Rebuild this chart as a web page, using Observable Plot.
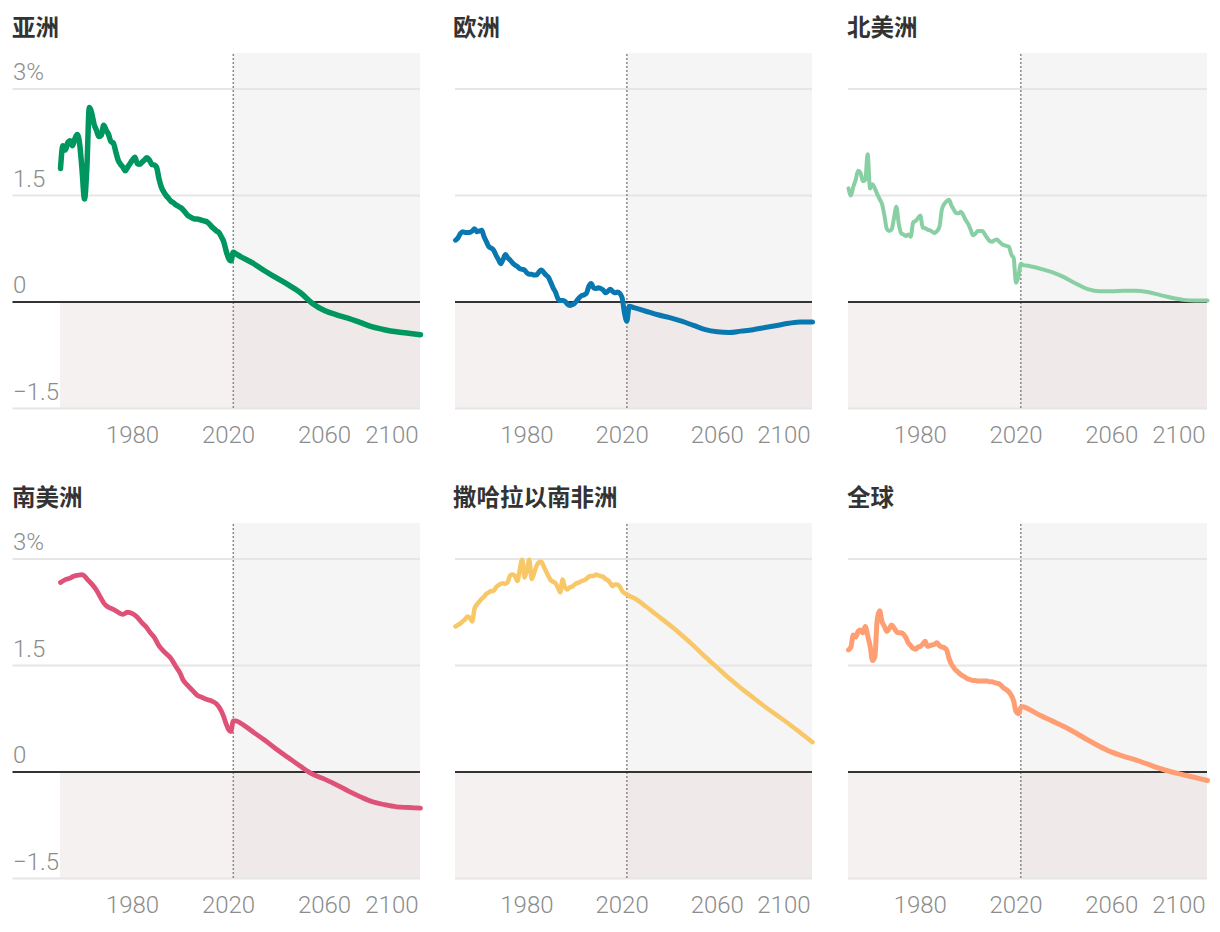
<!DOCTYPE html>
<html>
<head>
<meta charset="utf-8">
<script src="https://cdn.jsdelivr.net/npm/d3@7"></script>
<script src="https://cdn.jsdelivr.net/npm/@observablehq/plot@0.6"></script>
<style>
  html, body { margin: 0; padding: 0; background: #fff; }
  #root { position: relative; width: 1220px; height: 932px; overflow: hidden; }
  .title { position: absolute; font-family: "Noto Sans CJK SC", sans-serif; font-weight: 700; font-size: 23.5px; line-height: 1; color: #333; white-space: nowrap; }
  #root svg { position: absolute; overflow: visible; }
</style>
</head>
<body>
<div id="root"></div>
<script>
// ---------------- data (annual population growth rate, %) ----------------
const titles = ["亚洲", "欧洲", "北美洲", "南美洲", "撒哈拉以南非洲", "全球"];

const asia = [
  [1950,1.88],[1951,2.2],[1952,2.14],[1953,2.24],[1954,2.27],[1955,2.2],[1956,2.3],[1957,2.36],[1958,2.22],
  [1959,1.85],[1960,1.45],[1961,1.9],[1962,2.74],[1963,2.66],[1964,2.5],[1965,2.42],[1966,2.33],[1967,2.35],
  [1968,2.49],[1969,2.42],[1970,2.36],[1971,2.26],[1972,2.24],[1973,2.12],[1974,2.0],[1975,1.94],[1976,1.9],
  [1977,1.85],[1978,1.9],[1979,1.95],[1980,2.0],[1981,2.04],[1982,1.95],[1983,1.94],[1984,1.97],[1985,2.0],
  [1986,2.03],[1987,2.0],[1988,1.94],[1989,1.93],[1990,1.9],[1991,1.74],[1992,1.62],[1993,1.55],[1994,1.5],
  [1995,1.46],[1996,1.42],[1997,1.4],[1998,1.37],[1999,1.35],[2000,1.33],[2001,1.3],[2002,1.26],[2003,1.22],
  [2004,1.2],[2005,1.18],[2006,1.17],[2007,1.17],[2008,1.16],[2009,1.15],[2010,1.14],[2011,1.13],[2012,1.1],
  [2013,1.06],[2014,1.03],[2015,1.0],[2016,0.98],[2017,0.92],[2018,0.85],[2019,0.72],[2020,0.62],[2021,0.58],
  [2022,0.7],[2023,0.68],[2025,0.64],[2030,0.55],[2035,0.44],[2040,0.34],[2045,0.24],[2050,0.13],[2055,-0.02],
  [2060,-0.12],[2065,-0.18],[2070,-0.23],[2075,-0.29],[2080,-0.35],[2085,-0.39],[2090,-0.42],[2095,-0.44],[2100,-0.46]
];

const europe = [
  [1950,0.87],[1951,0.9],[1952,0.96],[1953,0.99],[1954,0.98],[1955,0.98],[1956,0.98],[1957,1.0],[1958,1.03],
  [1959,0.99],[1960,1.0],[1961,1.01],[1962,0.92],[1963,0.85],[1964,0.78],[1965,0.76],[1966,0.73],[1967,0.66],
  [1968,0.6],[1969,0.54],[1970,0.6],[1971,0.67],[1972,0.62],[1973,0.59],[1974,0.55],[1975,0.52],[1976,0.5],
  [1977,0.47],[1978,0.46],[1979,0.45],[1980,0.41],[1981,0.39],[1982,0.39],[1983,0.38],[1984,0.38],[1985,0.42],
  [1986,0.45],[1987,0.42],[1988,0.38],[1989,0.35],[1990,0.28],[1991,0.2],[1992,0.14],[1993,0.05],[1994,0.02],
  [1995,0.02],[1996,0.01],[1997,-0.03],[1998,-0.05],[1999,-0.04],[2000,-0.02],[2001,0.02],[2002,0.06],[2003,0.09],
  [2004,0.1],[2005,0.12],[2006,0.22],[2007,0.26],[2008,0.2],[2009,0.19],[2010,0.2],[2011,0.19],[2012,0.17],
  [2013,0.13],[2014,0.15],[2015,0.18],[2016,0.15],[2017,0.13],[2018,0.14],[2019,0.12],[2020,0.06],[2021,-0.16],
  [2022,-0.27],[2023,-0.06],[2025,-0.08],[2030,-0.13],[2035,-0.18],[2040,-0.22],[2045,-0.27],[2050,-0.33],
  [2055,-0.39],[2060,-0.42],[2065,-0.43],[2070,-0.41],[2075,-0.39],[2080,-0.36],[2085,-0.33],[2090,-0.3],
  [2095,-0.28],[2100,-0.28]
];

const northAmerica = [
  [1950,1.6],[1951,1.5],[1952,1.62],[1953,1.72],[1954,1.85],[1955,1.82],[1956,1.7],[1957,1.72],[1958,2.08],
  [1959,1.6],[1960,1.66],[1961,1.6],[1962,1.52],[1963,1.45],[1964,1.38],[1965,1.22],[1966,1.03],[1967,1.0],
  [1968,1.02],[1969,1.18],[1970,1.34],[1971,1.1],[1972,0.97],[1973,0.95],[1974,0.93],[1975,0.95],[1976,0.92],
  [1977,1.12],[1978,1.14],[1979,1.18],[1980,1.22],[1981,1.05],[1982,1.04],[1983,1.02],[1984,1.01],[1985,0.99],
  [1986,0.97],[1987,1.0],[1988,1.06],[1989,1.3],[1990,1.38],[1991,1.42],[1992,1.44],[1993,1.36],[1994,1.3],
  [1995,1.25],[1996,1.25],[1997,1.27],[1998,1.22],[1999,1.15],[2000,1.1],[2001,1.02],[2002,0.94],[2003,0.96],
  [2004,1.0],[2005,1.0],[2006,1.0],[2007,0.95],[2008,0.9],[2009,0.86],[2010,0.85],[2011,0.87],[2012,0.88],
  [2013,0.85],[2014,0.82],[2015,0.8],[2016,0.79],[2017,0.78],[2018,0.67],[2019,0.62],[2020,0.27],[2021,0.36],
  [2022,0.54],[2023,0.52],[2025,0.51],[2030,0.47],[2035,0.42],[2040,0.35],[2045,0.26],[2050,0.18],[2055,0.15],
  [2060,0.15],[2065,0.16],[2070,0.16],[2075,0.14],[2080,0.1],[2085,0.06],[2090,0.03],[2095,0.02],[2100,0.02]
];

const southAmerica = [
  [1950,2.67],[1952,2.71],[1954,2.73],[1955,2.75],[1957,2.77],[1959,2.78],[1960,2.76],[1961,2.72],[1963,2.65],
  [1965,2.56],[1967,2.44],[1968,2.38],[1970,2.32],[1972,2.29],[1974,2.25],[1975,2.23],[1976,2.22],[1978,2.25],
  [1980,2.23],[1982,2.18],[1984,2.1],[1986,2.03],[1987,1.98],[1989,1.9],[1991,1.78],[1993,1.7],[1996,1.6],
  [1998,1.49],[2000,1.38],[2001,1.3],[2003,1.22],[2005,1.15],[2007,1.08],[2009,1.05],[2011,1.02],[2013,1.0],
  [2015,0.96],[2017,0.86],[2018,0.78],[2019,0.68],[2020,0.6],[2021,0.57],[2022,0.72],[2023,0.72],[2025,0.69],
  [2030,0.57],[2035,0.45],[2040,0.32],[2045,0.2],[2050,0.08],[2055,-0.03],[2060,-0.1],[2065,-0.18],[2070,-0.27],
  [2075,-0.35],[2080,-0.42],[2085,-0.46],[2090,-0.49],[2095,-0.5],[2100,-0.51]
];

const subSaharanAfrica = [
  [1950,2.05],[1951,2.07],[1952,2.09],[1953,2.12],[1954,2.15],[1955,2.19],[1956,2.17],[1957,2.12],[1958,2.3],
  [1959,2.36],[1960,2.4],[1961,2.44],[1962,2.47],[1963,2.51],[1964,2.53],[1965,2.55],[1966,2.55],[1967,2.6],
  [1968,2.63],[1969,2.65],[1970,2.66],[1971,2.65],[1972,2.68],[1973,2.77],[1974,2.78],[1975,2.76],[1976,2.69],
  [1977,2.85],[1978,2.99],[1979,2.74],[1980,2.85],[1981,2.99],[1982,2.72],[1983,2.8],[1984,2.9],[1985,2.95],
  [1986,2.96],[1987,2.9],[1988,2.83],[1989,2.76],[1990,2.7],[1991,2.68],[1992,2.66],[1993,2.6],[1994,2.53],
  [1995,2.71],[1996,2.6],[1997,2.57],[1998,2.6],[1999,2.61],[2000,2.64],[2001,2.66],[2002,2.67],[2003,2.69],
  [2004,2.7],[2005,2.72],[2006,2.75],[2007,2.76],[2008,2.76],[2009,2.78],[2010,2.77],[2011,2.76],[2012,2.75],
  [2013,2.72],[2014,2.7],[2015,2.66],[2016,2.62],[2017,2.64],[2018,2.64],[2019,2.61],[2020,2.55],[2021,2.52],
  [2022,2.5],[2023,2.48],[2025,2.45],[2030,2.33],[2035,2.2],[2040,2.07],[2045,1.93],[2050,1.78],[2055,1.62],
  [2060,1.47],[2065,1.32],[2070,1.18],[2075,1.05],[2080,0.92],[2085,0.8],[2090,0.68],[2095,0.55],[2100,0.42]
];

const world = [
  [1950,1.72],[1951,1.76],[1952,1.93],[1953,1.9],[1954,1.98],[1955,2.0],[1956,1.96],[1957,2.05],[1958,1.92],
  [1959,1.78],[1960,1.57],[1961,1.62],[1962,2.15],[1963,2.27],[1964,2.12],[1965,2.05],[1966,1.98],[1967,2.02],
  [1968,2.07],[1969,2.03],[1970,1.98],[1971,1.96],[1972,1.96],[1973,1.94],[1974,1.89],[1975,1.82],[1976,1.78],
  [1977,1.74],[1978,1.73],[1979,1.76],[1980,1.77],[1981,1.8],[1982,1.84],[1983,1.77],[1984,1.78],[1985,1.79],
  [1986,1.8],[1987,1.82],[1988,1.78],[1989,1.76],[1990,1.75],[1991,1.72],[1992,1.6],[1993,1.52],[1994,1.47],
  [1995,1.43],[1996,1.4],[1997,1.37],[1998,1.35],[1999,1.33],[2000,1.31],[2001,1.3],[2002,1.29],[2003,1.29],
  [2004,1.28],[2005,1.28],[2006,1.28],[2007,1.28],[2008,1.28],[2009,1.27],[2010,1.27],[2011,1.26],[2012,1.25],
  [2013,1.24],[2014,1.21],[2015,1.18],[2016,1.16],[2017,1.13],[2018,1.08],[2019,1.0],[2020,0.85],[2021,0.82],
  [2022,0.91],[2023,0.92],[2025,0.89],[2030,0.8],[2035,0.72],[2040,0.64],[2045,0.55],[2050,0.45],[2055,0.36],
  [2060,0.28],[2065,0.22],[2070,0.17],[2075,0.11],[2080,0.05],[2085,0.0],[2090,-0.04],[2095,-0.08],[2100,-0.12]
];

const seriesList = [asia, europe, northAmerica, southAmerica, subSaharanAfrica, world];
const colors = ["#00965f", "#0a78b0", "#88cfa4", "#df5278", "#f8c767", "#ff9e73"];
const lineWidths = [5.5, 5, 4, 4.8, 4.5, 5];

const yearStart = 1950, yearEnd = 2100, projectionStart = 2022;
const yMin = -1.5, yMax = 3.5;
const gridValues = [3, 1.5, -1.5];
const yTickValues = [3, 1.5, 0, -1.5];
const yTickLabels = ["3%", "1.5", "0", "−1.5"];
const xTickValues = [1980, 2020, 2060, 2100];
const gridStartCol1 = 1930.2; // grid lines & y labels reach into the left margin of column 1

// ---------------- layout ----------------
const colLayout = [
  { left: 0,   width: 422, marginLeft: 60, marginRight: 2, titleLeft: 12 },
  { left: 440, width: 375, marginLeft: 15, marginRight: 3, titleLeft: 453 },
  { left: 833, width: 377, marginLeft: 15, marginRight: 3, titleLeft: 847 }
];
const rowLayout = [
  { svgTop: 45,  titleTop: 15 },
  { svgTop: 515, titleTop: 485 }
];

const tickFont = "Roboto, 'Noto Sans', 'Liberation Sans', sans-serif";
const tickColor = "#8c8c8c";

const root = document.getElementById("root");

seriesList.forEach((data, i) => {
  const col = i % 3, row = Math.floor(i / 3);
  const c = colLayout[col], r = rowLayout[row];
  const gx1 = col === 0 ? gridStartCol1 : yearStart;

  const marks = [
    // background zones
    Plot.rect([0], {x1: () => projectionStart, x2: () => yearEnd, y1: () => 0, y2: () => yMax, fill: "#f5f5f5"}),
    Plot.rect([0], {x1: () => yearStart, x2: () => projectionStart, y1: () => yMin, y2: () => 0, fill: "#f6f1f1"}),
    Plot.rect([0], {x1: () => projectionStart, x2: () => yearEnd, y1: () => yMin, y2: () => 0, fill: "#efe9e9"}),
    // grid
    Plot.ruleY(gridValues, {x1: gx1, x2: yearEnd, stroke: "#e6e6e6", strokeWidth: 2}),
    // projection divider
    Plot.ruleX([projectionStart], {y1: yMin, y2: yMax, stroke: "#8a8a8a", strokeWidth: 1.5, strokeDasharray: "2,2"}),
    // zero line
    Plot.ruleY([0], {x1: gx1, x2: yearEnd, stroke: "#333", strokeWidth: 2}),
    // data line
    Plot.line(data, {x: d => d[0], y: d => d[1], stroke: colors[i], strokeWidth: lineWidths[i],
      strokeLinejoin: "round", strokeLinecap: "round", curve: "monotone-x"}),
    // x tick labels
    Plot.text(xTickValues.slice(0, -1), {x: d => d, text: d => String(d), frameAnchor: "bottom",
      lineAnchor: "bottom", dy: 34, fontSize: 24, fontWeight: 300, fill: tickColor, fontFamily: tickFont}),
    Plot.text(xTickValues.slice(-1), {x: d => d, text: d => String(d), frameAnchor: "bottom", textAnchor: "end",
      lineAnchor: "bottom", dy: 34, dx: -2, fontSize: 24, fontWeight: 300, fill: tickColor, fontFamily: tickFont})
  ];
  if (col === 0) {
    marks.push(Plot.text(yTickValues, {x: () => gridStartCol1, y: d => d, text: (d, j) => yTickLabels[j],
      textAnchor: "start", lineAnchor: "bottom", dy: -9, fontSize: 24, fontWeight: 300, fill: tickColor, fontFamily: tickFont}));
  }

  const svg = Plot.plot({
    width: c.width,
    height: 415,
    marginLeft: c.marginLeft,
    marginRight: c.marginRight,
    marginTop: 8,
    marginBottom: 52,
    x: {domain: [yearStart, yearEnd], axis: null},
    y: {domain: [yMin, yMax], axis: null},
    style: {background: "transparent", overflow: "visible", fontFamily: tickFont},
    marks
  });
  svg.style.left = c.left + "px";
  svg.style.top = r.svgTop + "px";
  root.appendChild(svg);

  const t = document.createElement("div");
  t.className = "title";
  t.textContent = titles[i];
  t.style.left = c.titleLeft + "px";
  t.style.top = r.titleTop + "px";
  root.appendChild(t);
});
</script>
</body>
</html>
